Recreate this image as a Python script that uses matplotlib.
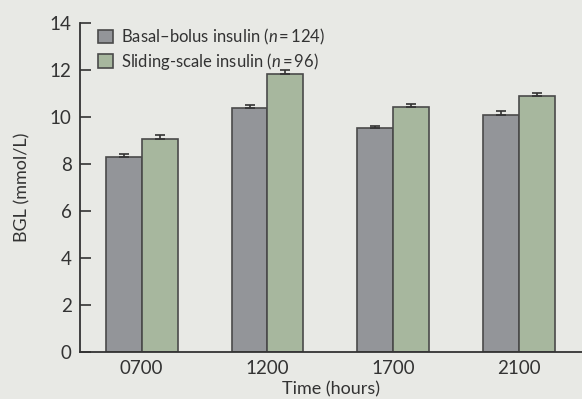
import numpy as np
import matplotlib.pyplot as plt

plt.rcParams['font.family'] = ['Lato', 'DejaVu Sans']
plt.rcParams['mathtext.fontset'] = 'custom'
plt.rcParams['mathtext.it'] = 'Lato:italic'
plt.rcParams['mathtext.rm'] = 'Lato'

times = ['0700', '1200', '1700', '2100']
basal_bolus = [8.31, 10.38, 9.52, 10.08]
basal_bolus_err = [0.10, 0.15, 0.11, 0.16]
sliding_scale = [9.07, 11.84, 10.41, 10.89]
sliding_scale_err = [0.15, 0.16, 0.15, 0.15]

bg = '#e8e9e5'
edge = '#4a4a4a'

fig = plt.figure(figsize=(5.82, 3.99), dpi=100, facecolor=bg)
ax = fig.add_axes([0.1375, 0.118, 0.8625, 0.824])
ax.set_facecolor(bg)

x = np.arange(len(times))
w = 0.285
err_kw = dict(ecolor='#333333', elinewidth=1.2, capsize=3.5, capthick=1.2)
ax.bar(x - w / 2, basal_bolus, w, color='#939599', edgecolor=edge, linewidth=1.2,
       yerr=[np.zeros(4), basal_bolus_err], error_kw=err_kw,
       label='Basal\u2013bolus insulin ($\\it{n}$\u2009=\u2009124)')
ax.bar(x + w / 2, sliding_scale, w, color='#a7b79e', edgecolor=edge, linewidth=1.2,
       yerr=[np.zeros(4), sliding_scale_err], error_kw=err_kw,
       label='Sliding-scale insulin ($\\it{n}$\u2009=\u200996)')

ax.set_xlim(-0.49, 3.5)
ax.set_ylim(0, 14)
ax.set_yticks(range(0, 15, 2))
ax.set_xticks(x)
ax.set_xticklabels(times)
ax.tick_params(axis='y', direction='in', length=8, width=1.2, pad=6,
               labelsize=13.5, colors='#333333')
ax.tick_params(axis='x', length=0, pad=6, labelsize=13.5, colors='#333333')
for s in ['top', 'right']:
    ax.spines[s].set_visible(False)
for s in ['left', 'bottom']:
    ax.spines[s].set_linewidth(1.3)
    ax.spines[s].set_color('#333333')

ax.set_xlabel('Time (hours)', fontsize=13, color='#333333', labelpad=3)
ax.set_ylabel('BGL (mmol/L)', fontsize=13, color='#333333', labelpad=14)

leg = ax.legend(loc='upper left', bbox_to_anchor=(0.005, 1.035), frameon=False,
                fontsize=12, handlelength=0.9, handleheight=0.9,
                handletextpad=0.5, labelspacing=0.25, labelcolor='#333333')

fig.savefig('out.png', dpi=100, facecolor=bg)
